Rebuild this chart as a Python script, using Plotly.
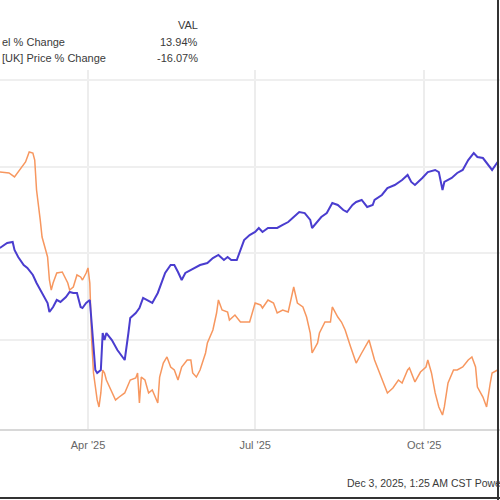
import plotly.graph_objects as go

# ---- data ----
tick_dates = ["2025-04-01", "2025-07-01", "2025-10-01"]
tick_labels = ["Apr '25", "Jul '25", "Oct '25"]

blue_dates = [
    "2025-02-12", "2025-02-16", "2025-02-19", "2025-02-20", "2025-02-22", "2025-02-25", "2025-02-27",
    "2025-03-02", "2025-03-04", "2025-03-07", "2025-03-10", "2025-03-11", "2025-03-13", "2025-03-15",
    "2025-03-17", "2025-03-20", "2025-03-22", "2025-03-24", "2025-03-26", "2025-03-28", "2025-03-29",
    "2025-03-31", "2025-04-02", "2025-04-03", "2025-04-05", "2025-04-06", "2025-04-08", "2025-04-09",
    "2025-04-10", "2025-04-11", "2025-04-14", "2025-04-17", "2025-04-20", "2025-04-21", "2025-04-23",
    "2025-04-24", "2025-04-27", "2025-04-29", "2025-05-01", "2025-05-03", "2025-05-06", "2025-05-09",
    "2025-05-11", "2025-05-13", "2025-05-16", "2025-05-18", "2025-05-20", "2025-05-22", "2025-05-24",
    "2025-05-27", "2025-05-29", "2025-06-01", "2025-06-05", "2025-06-08", "2025-06-11", "2025-06-14",
    "2025-06-16", "2025-06-18", "2025-06-21", "2025-06-23", "2025-06-25", "2025-06-28", "2025-07-01",
    "2025-07-03", "2025-07-05", "2025-07-08", "2025-07-11", "2025-07-13", "2025-07-16", "2025-07-19",
    "2025-07-22", "2025-07-25", "2025-07-28", "2025-07-31", "2025-08-01", "2025-08-04", "2025-08-06",
    "2025-08-09", "2025-08-12", "2025-08-15", "2025-08-18", "2025-08-20", "2025-08-23", "2025-08-25",
    "2025-08-28", "2025-08-31", "2025-09-03", "2025-09-04", "2025-09-08", "2025-09-11", "2025-09-15",
    "2025-09-19", "2025-09-22", "2025-09-24", "2025-09-26", "2025-09-30", "2025-10-03", "2025-10-07",
    "2025-10-09", "2025-10-11", "2025-10-12", "2025-10-16", "2025-10-19", "2025-10-22", "2025-10-25",
    "2025-10-28", "2025-10-30", "2025-11-02", "2025-11-05", "2025-11-07", "2025-11-10",
]
blue_values = [
    0.58, 1.16, 1.27, 0.35, -0.46, -1.39, -1.73,
    -2.54, -3.47, -4.62, -5.78, -6.82, -6.24, -5.43,
    -5.66, -5.09, -4.51, -4.62, -4.62, -6.24, -6.36,
    -5.78, -5.43, -8.09, -13.53, -13.87, -13.53, -9.25,
    -10.06, -9.25, -10.06, -11.21, -12.02, -12.37, -9.25,
    -7.51, -6.94, -6.36, -5.20, -5.43, -5.78, -4.62,
    -3.47, -2.31, -1.39, -1.39, -2.20, -3.12, -2.31,
    -1.97, -1.73, -1.39, -1.16, -0.58, -0.23, -0.81,
    -0.46, -0.81, -0.81, 0.35, 1.50, 2.08, 2.43,
    2.89, 2.43, 2.89, 2.89, 2.89, 3.24, 3.58,
    4.16, 4.74, 4.62, 3.82, 2.89, 3.58, 4.16,
    4.62, 5.78, 5.55, 4.97, 4.74, 5.55, 5.90,
    6.13, 5.32, 5.55, 6.13, 6.71, 7.51, 7.86,
    8.44, 9.02, 8.21, 7.86, 8.67, 9.36, 9.60,
    9.36, 7.28, 8.21, 8.67, 9.25, 9.60, 10.75,
    11.56, 11.10, 10.98, 10.17, 9.60, 10.52,
]

orange_dates = [
    "2025-02-12", "2025-02-17", "2025-02-20", "2025-02-23", "2025-02-26", "2025-02-28", "2025-03-02",
    "2025-03-03", "2025-03-04", "2025-03-06", "2025-03-07", "2025-03-10", "2025-03-11", "2025-03-12",
    "2025-03-13", "2025-03-15", "2025-03-17", "2025-03-18", "2025-03-21", "2025-03-22", "2025-03-24",
    "2025-03-26", "2025-03-28", "2025-03-29", "2025-03-31", "2025-04-01", "2025-04-02", "2025-04-03",
    "2025-04-04", "2025-04-06", "2025-04-07", "2025-04-08", "2025-04-09", "2025-04-10", "2025-04-11",
    "2025-04-14", "2025-04-16", "2025-04-18", "2025-04-21", "2025-04-24", "2025-04-27", "2025-04-28",
    "2025-04-29", "2025-04-30", "2025-05-02", "2025-05-04", "2025-05-06", "2025-05-09", "2025-05-10",
    "2025-05-12", "2025-05-14", "2025-05-16", "2025-05-18", "2025-05-20", "2025-05-22", "2025-05-25",
    "2025-05-27", "2025-05-28", "2025-05-30", "2025-06-01", "2025-06-04", "2025-06-05", "2025-06-08",
    "2025-06-10", "2025-06-11", "2025-06-13", "2025-06-16", "2025-06-17", "2025-06-20", "2025-06-23",
    "2025-06-25", "2025-06-28", "2025-07-01", "2025-07-04", "2025-07-05", "2025-07-08", "2025-07-11",
    "2025-07-13", "2025-07-16", "2025-07-19", "2025-07-22", "2025-07-24", "2025-07-27", "2025-07-29",
    "2025-07-31", "2025-08-01", "2025-08-04", "2025-08-05", "2025-08-08", "2025-08-11", "2025-08-12",
    "2025-08-15", "2025-08-17", "2025-08-19", "2025-08-22", "2025-08-25", "2025-08-28", "2025-08-31",
    "2025-09-01", "2025-09-04", "2025-09-08", "2025-09-11", "2025-09-14", "2025-09-17", "2025-09-19",
    "2025-09-22", "2025-09-23", "2025-09-26", "2025-09-29", "2025-10-02", "2025-10-03", "2025-10-05",
    "2025-10-07", "2025-10-09", "2025-10-11", "2025-10-12", "2025-10-14", "2025-10-17", "2025-10-19",
    "2025-10-22", "2025-10-25", "2025-10-27", "2025-10-29", "2025-10-30", "2025-11-02", "2025-11-04",
    "2025-11-06", "2025-11-07", "2025-11-10",
]
orange_values = [
    9.36, 9.25, 8.79, 9.60, 10.52, 11.68, 11.56,
    10.75, 7.28, 3.82, 1.85, -0.46, -3.12, -4.28,
    -3.47, -2.31, -2.20, -2.20, -3.47, -4.28, -3.93,
    -2.54, -2.77, -3.12, -2.31, -1.73, -3.47, -10.06,
    -13.87, -16.99, -17.80, -16.18, -13.53, -13.87, -14.68,
    -16.18, -16.99, -16.65, -16.18, -14.68, -14.45, -13.87,
    -17.34, -14.34, -14.68, -16.18, -15.84, -17.34, -14.34,
    -12.72, -12.02, -13.18, -13.53, -14.68, -13.18, -12.37,
    -12.37, -13.87, -14.34, -13.53, -11.56, -10.40, -8.90,
    -6.94, -5.43, -6.59, -6.82, -7.75, -7.17, -7.98,
    -7.98, -7.98, -5.78, -6.01, -6.36, -5.43, -5.78,
    -6.94, -6.59, -6.82, -3.93, -5.78, -6.24, -7.40,
    -9.25, -11.56, -10.40, -9.25, -7.98, -7.98, -6.24,
    -7.40, -7.98, -8.90, -10.87, -12.72, -11.56, -10.40,
    -10.06, -12.37, -14.68, -16.18, -15.61, -14.68, -15.03,
    -13.53, -13.29, -14.91, -13.76, -13.18, -12.37, -13.87,
    -16.18, -17.80, -18.73, -17.80, -15.03, -13.53, -13.53,
    -13.18, -12.37, -12.02, -13.18, -15.49, -16.65, -17.80,
    -15.03, -13.87, -13.53,
]

# texts as they are visible in the (cropped) reference
row_labels = ["el % Change", "[UK] Price % Change"]
row_values = ["13.94%", "-16.07%"]
value_header = "VAL"
footnote = "Dec 3, 2025, 1:25 AM CST Powe"

BLUE = "#4a3dcf"
ORANGE = "#f7975f"
TEXT = "#3a3a3a"
FONT = "Liberation Sans, Arial, sans-serif"

# plot area in pixels (for placing outside text)
TOP, BOTTOM = 70, 429
H = BOTTOM - TOP


def py(pix):
    return (BOTTOM - pix) / H


fig = go.Figure()
fig.add_trace(go.Scatter(x=orange_dates, y=orange_values, mode="lines",
                         line=dict(color=ORANGE, width=1.5), hoverinfo="skip"))
fig.add_trace(go.Scatter(x=blue_dates, y=blue_values, mode="lines",
                         line=dict(color=BLUE, width=2), hoverinfo="skip"))


def note(xpix, ypix, text, anchor, size=11):
    return dict(x=xpix / 500, y=py(ypix), xref="paper", yref="paper", text=text,
                xanchor=anchor, yanchor="middle", showarrow=False,
                font=dict(size=size, color=TEXT, family=FONT))


annotations = [
    note(200, 25, value_header, "right"),
    note(0, 42, row_labels[0], "left"),
    note(200, 42, row_values[0], "right"),
    note(0, 58, row_labels[1], "left"),
    note(200, 58, row_values[1], "right"),
    note(345, 483, footnote, "left", size=10.5),
]

shapes = [
    dict(type="line", xref="paper", yref="paper", x0=498 / 500, x1=498 / 500,
         y0=py(500), y1=py(0), line=dict(color="#333333", width=2)),
    dict(type="line", xref="paper", yref="paper", x0=0, x1=1,
         y0=py(498), y1=py(498), line=dict(color="#333333", width=2)),
]

fig.update_layout(
    width=500, height=500,
    margin=dict(l=0, r=0, t=TOP, b=500 - BOTTOM, pad=0),
    paper_bgcolor="white", plot_bgcolor="white",
    showlegend=False,
    annotations=annotations,
    shapes=shapes,
    font=dict(family=FONT),
    xaxis=dict(
        type="date",
        range=["2025-02-12 02:24", "2025-11-11 07:12"],
        tickvals=tick_dates, ticktext=tick_labels,
        showgrid=True, gridcolor="#ededed", gridwidth=1.5,
        showline=True, linecolor="#d8d8d8", linewidth=2,
        ticks="", ticklabelstandoff=5,
        tickfont=dict(size=11, color="#666666", family=FONT),
        zeroline=False,
    ),
    yaxis=dict(
        range=[-(BOTTOM - 253) / 8.65, (253 - TOP) / 8.65],
        tickvals=[-10, 0, 10, 20],
        showticklabels=False,
        showgrid=True, gridcolor="#efefef", gridwidth=1.5,
        zeroline=False, showline=False, ticks="",
    ),
)

fig.write_html("out.html", config={"displayModeBar": False},
               post_script="document.body.style.margin='0';")
